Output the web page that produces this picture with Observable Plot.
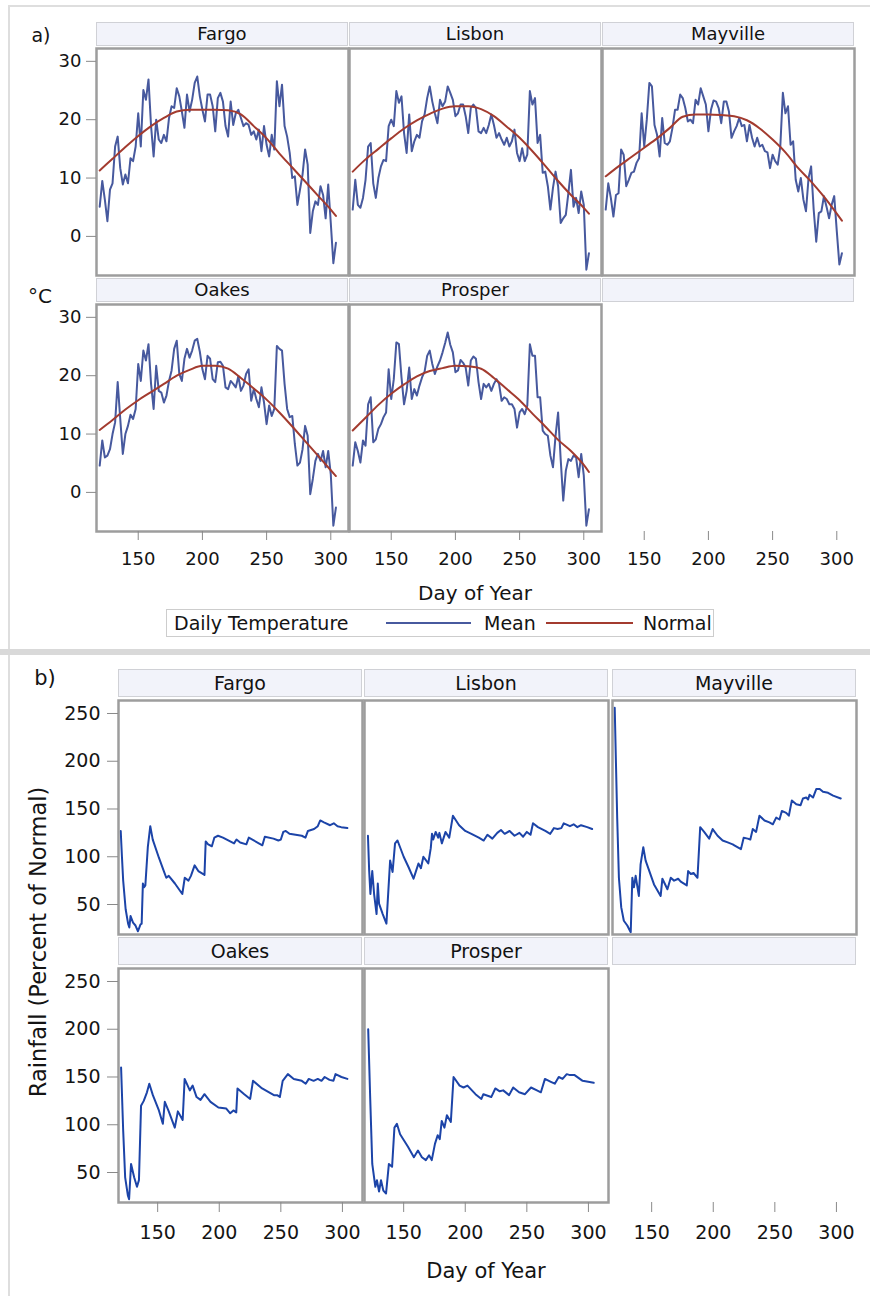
<!DOCTYPE html>
<html>
<head>
<meta charset="utf-8">
<script src="https://cdn.jsdelivr.net/npm/d3@7"></script>
<script src="https://cdn.jsdelivr.net/npm/@observablehq/plot@0.6"></script>
<style>
  body { margin: 0; background: #fff; }
  #root { position: relative; width: 870px; height: 1296px; overflow: hidden; background: #fff; }
  .hdr { position: absolute; box-sizing: border-box; background: #f2f3fa; border: 1px solid #d0d1d6;
         text-align: center; color: #111; font-family: "DejaVu Sans", sans-serif; white-space: nowrap; }
</style>
</head>
<body>
<div id="root"></div>
<script>
// ---------- data ----------
const stations = ["Fargo", "Lisbon", "Mayville", "Oakes", "Prosper"];

// day of year for the daily mean temperature series
const tempDays = [120,122,124,126,128,130,132,134,136,138,140,142,144,146,148,150,152,154,156,158,
  160,162,164,166,168,170,172,174,176,178,180,182,184,186,188,190,192,194,196,198,
  200,202,204,206,208,210,212,214,216,218,220,222,224,226,228,230,232,234,236,238,
  240,242,244,246,248,250,252,254,256,258,260,262,264,266,268,270,272,274,276,278,
  280,282,284,286,288,290,292,294,296,298,300,302,304];

// daily mean temperature (°C)
const meanFargo = [5.1,9.5,6.3,2.6,8.0,9.1,15.4,17.1,11.7,8.9,
  10.6,9.1,13.4,12.9,15.4,21.1,15.4,25.1,23.4,26.9,
  18.9,13.7,20.0,16.6,16.0,17.4,16.3,20.3,22.3,22.0,
  25.4,24.0,21.4,18.6,24.3,21.4,23.4,26.3,27.4,24.0,
  21.7,19.7,24.3,24.3,22.3,18.0,23.7,24.6,23.1,18.9,
  17.1,23.1,19.1,21.1,21.7,20.3,18.9,19.4,19.1,17.4,
  18.0,16.6,18.3,14.6,18.9,15.7,13.7,17.4,14.9,26.6,
  22.3,26.0,18.9,17.1,14.3,10.0,10.3,5.4,8.0,10.6,
  14.9,12.3,0.6,4.3,6.0,5.4,8.6,7.1,3.1,8.9,
  2.3,-4.6,-1.1];
const meanLisbon = [4.6,9.7,5.4,4.9,6.6,9.7,15.4,16.0,9.1,6.6,
  10.0,12.0,13.1,12.9,18.9,20.0,18.9,24.9,22.9,24.0,
  17.7,14.3,20.9,14.6,16.3,17.4,16.9,19.7,20.9,23.7,
  25.7,23.1,21.1,19.4,23.4,22.3,23.1,25.7,24.6,23.4,
  20.6,21.1,22.6,22.6,20.6,17.7,22.0,22.6,22.0,18.0,
  17.7,18.6,17.7,19.1,20.9,19.1,16.9,17.7,16.6,15.7,
  16.9,15.4,16.3,18.3,14.3,12.9,15.1,12.9,14.0,24.9,
  22.6,23.7,16.0,17.4,10.9,11.1,8.6,4.6,8.3,11.1,
  8.6,2.3,3.1,3.7,7.4,11.4,5.1,6.6,4.0,7.7,
  5.4,-5.7,-2.9];
const meanMayville = [4.6,9.1,6.6,3.4,7.1,7.4,14.9,14.0,8.6,9.7,
  10.9,11.1,12.6,13.4,21.1,15.4,20.0,26.3,25.7,19.1,
  17.4,13.7,20.3,16.0,15.7,16.3,18.6,21.7,21.7,24.3,
  23.7,22.0,19.7,20.0,19.4,23.4,22.6,25.4,24.0,22.6,
  18.0,21.7,23.3,23.1,22.0,19.4,23.1,23.1,21.4,16.9,
  18.0,18.9,20.3,18.9,19.1,16.3,19.1,16.9,15.4,16.9,
  15.4,15.7,14.6,14.4,11.7,14.0,12.9,12.3,15.4,24.6,
  21.1,22.3,15.7,16.3,9.7,7.7,10.0,6.3,4.3,10.0,
  12.0,4.6,-0.9,4.0,4.3,6.9,5.1,3.1,5.4,6.9,
  0.9,-4.8,-2.9];
const meanOakes = [4.6,8.9,6.0,6.3,7.4,10.0,12.0,18.9,12.6,6.6,
  10.0,11.4,13.3,12.6,14.3,22.0,19.1,24.3,22.6,25.4,
  18.6,14.3,21.7,17.4,17.1,15.4,16.6,19.1,20.9,24.6,
  26.0,20.3,19.1,22.9,24.6,23.1,24.3,26.0,26.3,24.1,
  21.1,19.4,23.4,22.9,19.4,18.9,22.3,22.4,21.7,18.0,
  17.7,19.1,18.6,18.0,19.9,17.4,18.3,20.3,21.1,15.7,
  17.7,16.0,14.6,18.0,15.4,11.7,14.9,13.1,14.3,25.1,
  24.6,24.3,18.6,14.3,12.9,13.1,8.3,4.6,5.1,7.4,
  11.4,9.7,-0.3,2.3,5.4,6.6,5.4,7.1,4.3,7.1,
  3.1,-5.7,-2.6];
const meanProsper = [4.6,8.6,7.1,5.1,8.9,8.0,15.1,16.3,8.6,9.1,
  10.9,11.7,12.9,13.7,21.1,16.0,19.4,25.7,25.4,19.7,
  15.1,17.4,21.4,16.0,17.7,16.6,18.3,19.7,20.7,23.4,
  24.3,22.0,20.3,21.6,22.6,24.0,25.6,27.4,25.3,24.0,
  20.6,20.9,22.7,22.2,21.4,18.3,22.6,23.3,22.9,18.9,
  16.0,18.6,18.0,18.6,17.4,18.6,19.4,18.6,15.7,16.3,
  16.0,15.1,15.1,14.3,11.1,13.7,14.3,13.4,14.9,25.4,
  23.4,23.4,16.3,16.3,10.6,10.0,9.7,6.3,4.3,9.7,
  13.7,5.7,-1.4,3.7,5.7,5.4,6.3,6.0,2.6,6.6,
  2.9,-5.7,-2.9];

// normal daily temperature (°C)
const normalDays = [120,130,140,150,160,170,180,190,200,210,220,230,240,250,260,270,280,290,300,304];
const normalFargo    = [11.3,13.3,15.3,17.2,18.9,20.3,21.4,21.7,21.7,21.7,21.6,20.9,18.9,16.8,14.2,11.8,9.4,7.0,4.6,3.5];
const normalLisbon   = [11.1,13.2,15.0,16.8,18.5,19.9,21.0,21.9,22.3,22.3,21.8,20.6,18.8,16.9,14.6,12.1,9.5,7.1,4.9,3.9];
const normalMayville = [10.3,12.0,13.6,15.2,16.8,18.6,20.5,20.9,20.9,20.8,20.6,19.9,18.5,16.6,14.4,11.7,9.4,6.8,3.9,2.7];
const normalOakes    = [10.7,12.4,14.2,15.8,17.2,18.6,20.0,21.0,21.7,21.7,21.2,19.6,17.8,15.9,13.7,11.3,8.8,6.3,3.8,2.8];
const normalProsper  = [10.6,12.8,15.0,16.9,18.5,19.9,20.8,21.3,21.7,21.6,21.2,19.6,17.7,15.8,13.5,11.3,9.0,7.1,4.7,3.5];

// cumulative rainfall, percent of normal
const rainDaysFargo = [120,121,122,124,126,127,128,130,132,134,136,137,138,139,140,142,144,146,151,155,
  157,159,164,170,172,175,177,180,183,188,189,191,194,196,199,203,212,214,217,222,
  224,235,237,244,248,250,252,254,257,262,267,270,272,277,280,282,285,290,293,296,299,304];
const rainFargo = [127,100,75,45,30,26,38,31,28,22,29,30,72,68,70,110,132,118,99,85,
  78,80,72,61,78,75,80,91,85,81,116,113,111,120,122,120,114,118,115,113,
  120,112,121,119,117,118,126,127,124,123,122,120,127,129,132,138,136,133,135,132,131,130];
const rainDaysLisbon = [121,122,123,124.5,126,128,129,130,133,136,139,141,143,145,150,154,158,160,162,164,
  166,170,172,173,174,176,178,179,181,184,187,190,195,200,205,211,215,218,222,226,
  229,232,236,240,244,247,250,253,255,259,265,269,272,275,278,280,285,288,291,294,299,303];
const rainLisbon = [122,85,61,85,61,40,72,51,40,30,96,84,114,117,100,89,77,85,93,88,
  100,93,109,124,118,126,120,125,114,126,120,143,133,127,124,120,117,123,119,125,
  128,124,127,122,125,121,126,123,135,131,127,124,130,129,130,135,132,134,131,133,131,129];
const rainDaysMayville = [120,122,123.4,125.3,127.4,130.2,133,134.3,135.6,137,139.6,141,143.2,145.1,151.9,
  157.3,158.7,162.8,165.5,168.2,171.5,173.6,178.5,179.6,181.8,184,187.2,189.4,192.6,196.7,
  199.5,203.5,207.6,211.7,215.8,217.1,222.5,224.7,228,230.1,232.1,234.8,237.5,241.6,245.6,
  248.4,251.1,253.8,255.7,259.2,261.4,263.8,267.4,270.9,272.8,275.5,277,278.2,281,283.7,
  286.4,289.1,293.2,297.3,303.5];
const rainMayville = [256,141,78,47,33,28,21,78,68,80,59,92,110,96,71,
  59,77,66,78,75,77,74,70,85,82,83,78,131,126,119,
  129,122,117,115,113,112,108,120,119,118,129,126,143,138,136,
  134,141,139,148,146,143,159,155,154,161,162,160,165,162,171,
  171,168,167,164,161];
const rainDaysOakes = [120.3,122,123.6,125.8,126.8,128.4,130.9,133.2,134.8,136.5,138.7,141.3,143.2,146.1,151,
  154.2,155.8,159,163.9,166.4,170.3,171.9,176.1,178.4,181.6,184.8,188,192.9,199.3,205.7,
  208.9,211.5,213.8,214.8,220.3,225.1,227.4,234.8,244.4,247,249.2,251.5,255.7,260.5,267,
  270.2,272.7,276.6,280,283,285.6,289.5,292.7,294.4,299.2,304];
const rainOakes = [160,94,45,26,22,59,45,35,42,120,125,134,143,131,115,
  101,124,114,97,114,105,148,136,141,129,126,132,124,118,117,
  112,115,113,138,132,127,146,138,131,131,129,146,153,148,146,
  143,148,146,148,146,150,147,146,153,150,148];
const rainDaysProsper = [121.2,122.8,124.5,127,128.3,130,131.6,133.5,135.7,138,140.6,142.5,144.5,147.1,153.5,
  158.3,161.6,164.8,168,170.6,172.8,175.4,177.6,179.3,180.9,183.1,185.1,188.3,190.5,195.4,
  198.6,201.8,208.3,213.1,214.7,221.1,224.4,228,230.8,235.6,238.9,243.7,248.5,253.4,258.2,
  261.4,264.7,269.5,272.7,275.9,279,282.4,285,288.8,295.3,304.3];
const rainProsper = [200,129,59,35,42,30,42,31,28,59,56,97,101,90,77,
  66,73,66,63,68,63,80,89,85,104,97,110,103,150,141,
  139,141,132,127,132,129,138,135,136,131,139,134,132,139,136,
  134,148,145,143,150,148,153,152,152,146,144];

// axis ticks
const dayTicks = [150, 200, 250, 300];
const tempTicks = [0, 10, 20, 30];
const rainTicks = [50, 100, 150, 200, 250];

// ---------- assembled series ----------
const meanByStation = [meanFargo, meanLisbon, meanMayville, meanOakes, meanProsper];
const normalByStation = [normalFargo, normalLisbon, normalMayville, normalOakes, normalProsper];
const rainDaysByStation = [rainDaysFargo, rainDaysLisbon, rainDaysMayville, rainDaysOakes, rainDaysProsper];
const rainByStation = [rainFargo, rainLisbon, rainMayville, rainOakes, rainProsper];

const FONT = "'DejaVu Sans', sans-serif";
const MEAN_COLOR = "#47599e";
const NORMAL_COLOR = "#a33b2f";
const RAIN_COLOR = "#1c44a8";
const FRAME_COLOR = "#9d9d9d";
const TEXT_COLOR = "#141414";
const root = document.getElementById("root");

function addText(txt, x, y, {size = 18, anchor = "middle", rotate = 0, family = FONT, color = TEXT_COLOR} = {}) {
  const el = document.createElement("div");
  el.textContent = txt;
  Object.assign(el.style, {
    position: "absolute", left: x + "px", top: y + "px", whiteSpace: "nowrap",
    fontSize: size + "px", lineHeight: "1", fontFamily: family, color
  });
  const ax = anchor === "start" ? "0" : anchor === "end" ? "-100%" : "-50%";
  el.style.transform = `translate(${ax}, -50%)` + (rotate ? ` rotate(${rotate}deg)` : "");
  root.append(el);
  return el;
}

function addBox(x, y, w, h, style) {
  const el = document.createElement("div");
  Object.assign(el.style, {position: "absolute", left: x + "px", top: y + "px",
    width: w + "px", height: h + "px", boxSizing: "border-box"}, style);
  root.append(el);
  return el;
}

function addHeader(txt, x, y, w, h, size) {
  const el = addBox(x, y, w, h, {});
  el.className = "hdr";
  el.style.fontSize = size + "px";
  el.style.lineHeight = (h - 2) + "px";
  el.textContent = txt;
}

// one facet cell: a separate Plot whose frame sits at (x0, y0) with size w x h
function facet({x0, y0, w, h, xDomain, yDomain, marks, frame, yAxis, xAxis, fontSize}) {
  const mL = 80, mR = 4, mT = 4, mB = 50;
  const all = [...marks];
  if (frame) all.push(Plot.frame({stroke: FRAME_COLOR, strokeWidth: 2.5}));
  if (yAxis) all.push(Plot.axisY({label: null, stroke: "#8a8a8a", fill: TEXT_COLOR, ...yAxis}));
  if (xAxis) all.push(Plot.axisX({label: null, stroke: "#8a8a8a", fill: TEXT_COLOR, ...xAxis}));
  const svg = Plot.plot({
    width: w + mL + mR, height: h + mT + mB,
    marginLeft: mL, marginRight: mR, marginTop: mT, marginBottom: mB,
    x: {domain: xDomain, axis: null},
    y: {domain: yDomain, axis: null},
    style: {fontFamily: FONT, fontSize: fontSize + "px", background: "transparent",
            overflow: "visible", maxWidth: "none"},
    marks: all
  });
  Object.assign(svg.style, {position: "absolute", left: (x0 - mL) + "px", top: (y0 - mT) + "px"});
  root.append(svg);
}

// ---------- outer panel borders ----------
addBox(8, 5, 870, 644, {borderTop: "2px solid #dedede", borderLeft: "2px solid #dedede"});
addBox(0, 649, 870, 6, {background: "#d9d9d9"});
addBox(8, 655, 870, 650, {borderLeft: "2px solid #dedede"});

// ---------- panel a: daily temperature ----------
const aCols = [96, 349, 602], aW = 252, aRows = [48, 304], aH = 227;
const tempX = [117.5, 313.8], tempY = [-6.7, 32.2];
for (let i = 0; i < 6; i++) {
  const c = i % 3, r = Math.floor(i / 3);
  const x0 = aCols[c], y0 = aRows[r];
  addHeader(i < 5 ? stations[i] : "", x0, y0 - 26, aW, 24, 18);
  const marks = [];
  if (i < 5) {
    const mean = tempDays.map((d, k) => ({day: d, value: meanByStation[i][k]}));
    const normal = normalDays.map((d, k) => ({day: d, value: normalByStation[i][k]}));
    marks.push(Plot.line(mean, {x: "day", y: "value", stroke: MEAN_COLOR, strokeWidth: 2}));
    marks.push(Plot.line(normal, {x: "day", y: "value", stroke: NORMAL_COLOR, strokeWidth: 2, curve: "monotone-x"}));
  }
  facet({
    x0, y0, w: aW, h: aH, xDomain: tempX, yDomain: tempY, marks, frame: i < 5, fontSize: 18,
    yAxis: c === 0 ? {ticks: tempTicks, tickSize: 10, tickPadding: 5} : null,
    xAxis: r === 1 ? {ticks: dayTicks, tickSize: 9, tickPadding: 12} : null
  });
}
addText("a)", 41, 35, {size: 19});
addText("°C", 40, 296, {size: 20});
addText("Day of Year", 475, 593, {size: 20});

// legend
addBox(166, 609, 548, 28, {border: "1px solid #cdcdcd"});
addText("Daily Temperature", 174, 623, {size: 19, anchor: "start"});
addText("Mean", 484, 623, {size: 19, anchor: "start"});
addText("Normal", 643, 623, {size: 19, anchor: "start"});
addBox(386, 622, 85, 2, {background: MEAN_COLOR});
addBox(546, 622, 87, 2, {background: NORMAL_COLOR});

// ---------- panel b: rainfall ----------
const bCols = [118, 364, 612], bW = 244, bRows = [700, 968], bH = 234;
const rainX = [118.2, 316.3], rainY = [18.6, 263.6];
for (let i = 0; i < 6; i++) {
  const c = i % 3, r = Math.floor(i / 3);
  const x0 = bCols[c], y0 = bRows[r];
  addHeader(i < 5 ? stations[i] : "", x0, y0 - 31, bW, 28, 19);
  const marks = [];
  if (i < 5) {
    const rows = rainDaysByStation[i].map((d, k) => ({day: d, value: rainByStation[i][k]}));
    marks.push(Plot.line(rows, {x: "day", y: "value", stroke: RAIN_COLOR, strokeWidth: 2}));
  }
  facet({
    x0, y0, w: bW, h: bH, xDomain: rainX, yDomain: rainY, marks, frame: i < 5, fontSize: 19,
    yAxis: c === 0 ? {ticks: rainTicks, tickSize: 11, tickPadding: 7} : null,
    xAxis: r === 1 ? {ticks: dayTicks, tickSize: 10, tickPadding: 13} : null
  });
}
addText("b)", 45, 678, {size: 21});
addText("Day of Year", 486, 1271, {size: 21});
addText("Rainfall (Percent of Normal)", 38, 942, {size: 22.5, rotate: -90});
</script>
</body>
</html>
